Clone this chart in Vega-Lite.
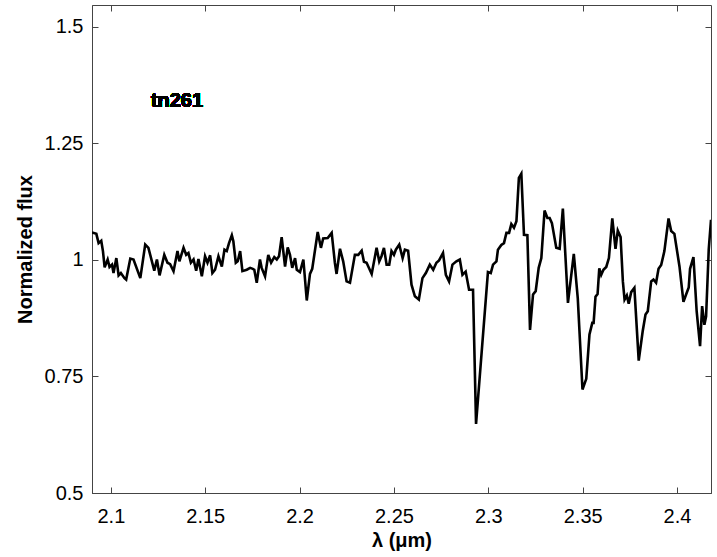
{
  "$schema": "https://vega.github.io/schema/vega-lite/v6.json",
  "width": 619,
  "height": 488,
  "autosize": {"type": "none"},
  "padding": {"left": 92, "top": 5, "right": 6, "bottom": 64},
  "background": "white",
  "config": {
    "view": {"stroke": "#444", "strokeWidth": 1},
    "font": "Liberation Sans",
    "axis": {"grid": false, "domainColor": "#444", "tickColor": "#444", "labelColor": "black", "titleColor": "black", "labelFont": "Liberation Sans", "titleFont": "Liberation Sans", "labelFontSize": 20, "titleFontSize": 20, "titleFontWeight": "bold", "tickSize": -6}
  },
  "data": {"values": [
    {"w": 2.0900, "f": 1.059}, {"w": 2.0923, "f": 1.056}, {"w": 2.0935, "f": 1.036}, {"w": 2.0949, "f": 1.041}, {"w": 2.0958, "f": 1.019}, {"w": 2.0967, "f": 0.984}, {"w": 2.0983, "f": 1.001}, {"w": 2.0993, "f": 0.985}, {"w": 2.1006, "f": 0.990}, {"w": 2.1014, "f": 0.972}, {"w": 2.1029, "f": 1.004}, {"w": 2.1041, "f": 0.967}, {"w": 2.1053, "f": 0.972}, {"w": 2.1072, "f": 0.961}, {"w": 2.1081, "f": 0.958}, {"w": 2.1103, "f": 1.003}, {"w": 2.1120, "f": 1.001}, {"w": 2.1156, "f": 0.961}, {"w": 2.1182, "f": 1.033}, {"w": 2.1199, "f": 1.026}, {"w": 2.1230, "f": 0.977}, {"w": 2.1244, "f": 1.001}, {"w": 2.1258, "f": 0.967}, {"w": 2.1283, "f": 1.011}, {"w": 2.1300, "f": 0.994}, {"w": 2.1314, "f": 0.991}, {"w": 2.1332, "f": 0.976}, {"w": 2.1353, "f": 1.019}, {"w": 2.1363, "f": 0.997}, {"w": 2.1385, "f": 1.026}, {"w": 2.1399, "f": 1.011}, {"w": 2.1411, "f": 1.015}, {"w": 2.1424, "f": 0.994}, {"w": 2.1438, "f": 1.001}, {"w": 2.1452, "f": 0.977}, {"w": 2.1464, "f": 1.002}, {"w": 2.1482, "f": 0.965}, {"w": 2.1499, "f": 1.008}, {"w": 2.1512, "f": 0.994}, {"w": 2.1526, "f": 1.010}, {"w": 2.1538, "f": 0.972}, {"w": 2.1552, "f": 0.979},
    {"w": 2.1570, "f": 1.008}, {"w": 2.1588, "f": 0.986}, {"w": 2.1602, "f": 1.022}, {"w": 2.1614, "f": 1.019}, {"w": 2.1626, "f": 1.036}, {"w": 2.1641, "f": 1.053}, {"w": 2.1649, "f": 1.040}, {"w": 2.1662, "f": 0.994}, {"w": 2.1672, "f": 0.997}, {"w": 2.1685, "f": 1.019}, {"w": 2.1697, "f": 0.976}, {"w": 2.1720, "f": 0.979}, {"w": 2.1738, "f": 0.983}, {"w": 2.1752, "f": 0.981}, {"w": 2.1760, "f": 0.979}, {"w": 2.1773, "f": 0.951}, {"w": 2.1790, "f": 1.001}, {"w": 2.1799, "f": 0.983}, {"w": 2.1817, "f": 0.965}, {"w": 2.1834, "f": 1.011}, {"w": 2.1849, "f": 0.994}, {"w": 2.1866, "f": 1.006}, {"w": 2.1879, "f": 1.001}, {"w": 2.1891, "f": 1.008}, {"w": 2.1905, "f": 1.049}, {"w": 2.1923, "f": 0.986}, {"w": 2.1937, "f": 1.027}, {"w": 2.1949, "f": 1.011}, {"w": 2.1961, "f": 0.983}, {"w": 2.1976, "f": 1.004}, {"w": 2.1985, "f": 0.979}, {"w": 2.2002, "f": 0.974}, {"w": 2.2020, "f": 1.001}, {"w": 2.2038, "f": 0.913}, {"w": 2.2055, "f": 0.970}, {"w": 2.2067, "f": 0.981}, {"w": 2.2096, "f": 1.060}, {"w": 2.2113, "f": 1.026}, {"w": 2.2125, "f": 1.046}, {"w": 2.2149, "f": 1.047}, {"w": 2.2170, "f": 1.058}, {"w": 2.2187, "f": 0.994}, {"w": 2.2196, "f": 0.970}, {"w": 2.2214, "f": 1.024},
    {"w": 2.2231, "f": 0.997}, {"w": 2.2249, "f": 0.954}, {"w": 2.2267, "f": 0.951}, {"w": 2.2293, "f": 1.011}, {"w": 2.2311, "f": 1.011}, {"w": 2.2329, "f": 1.020}, {"w": 2.2341, "f": 0.996}, {"w": 2.2355, "f": 0.994}, {"w": 2.2382, "f": 0.970}, {"w": 2.2408, "f": 1.026}, {"w": 2.2422, "f": 0.997}, {"w": 2.2434, "f": 1.008}, {"w": 2.2447, "f": 1.026}, {"w": 2.2461, "f": 0.990}, {"w": 2.2475, "f": 0.990}, {"w": 2.2487, "f": 1.019}, {"w": 2.2500, "f": 1.011}, {"w": 2.2510, "f": 1.022}, {"w": 2.2528, "f": 1.033}, {"w": 2.2546, "f": 1.004}, {"w": 2.2558, "f": 1.022}, {"w": 2.2575, "f": 1.020}, {"w": 2.2593, "f": 0.947}, {"w": 2.2611, "f": 0.922}, {"w": 2.2632, "f": 0.915}, {"w": 2.2651, "f": 0.961}, {"w": 2.2669, "f": 0.972}, {"w": 2.2690, "f": 0.990}, {"w": 2.2708, "f": 0.979}, {"w": 2.2725, "f": 0.994}, {"w": 2.2739, "f": 0.999}, {"w": 2.2760, "f": 1.015}, {"w": 2.2775, "f": 0.968}, {"w": 2.2792, "f": 0.954}, {"w": 2.2810, "f": 0.990}, {"w": 2.2831, "f": 0.997}, {"w": 2.2849, "f": 1.001}, {"w": 2.2863, "f": 0.968}, {"w": 2.2880, "f": 0.975}, {"w": 2.2898, "f": 0.936}, {"w": 2.2919, "f": 0.936}, {"w": 2.2935, "f": 0.648},
    {"w": 2.2998, "f": 0.974}, {"w": 2.3013, "f": 0.972}, {"w": 2.3025, "f": 0.990}, {"w": 2.3043, "f": 0.997}, {"w": 2.3051, "f": 1.022}, {"w": 2.3069, "f": 1.032}, {"w": 2.3083, "f": 1.036}, {"w": 2.3096, "f": 1.058}, {"w": 2.3110, "f": 1.058}, {"w": 2.3122, "f": 1.077}, {"w": 2.3136, "f": 1.069}, {"w": 2.3149, "f": 1.083}, {"w": 2.3162, "f": 1.176}, {"w": 2.3175, "f": 1.185}, {"w": 2.3189, "f": 1.054}, {"w": 2.3207, "f": 1.053}, {"w": 2.3221, "f": 0.850}, {"w": 2.3237, "f": 0.926}, {"w": 2.3251, "f": 0.933}, {"w": 2.3267, "f": 0.983}, {"w": 2.3281, "f": 1.004}, {"w": 2.3298, "f": 1.106}, {"w": 2.3313, "f": 1.090}, {"w": 2.3325, "f": 1.090}, {"w": 2.3337, "f": 1.079}, {"w": 2.3360, "f": 1.026}, {"w": 2.3378, "f": 1.024}, {"w": 2.3395, "f": 1.110}, {"w": 2.3422, "f": 0.908}, {"w": 2.3453, "f": 1.013}, {"w": 2.3474, "f": 0.918}, {"w": 2.3499, "f": 0.722}, {"w": 2.3519, "f": 0.745}, {"w": 2.3536, "f": 0.840}, {"w": 2.3551, "f": 0.865}, {"w": 2.3558, "f": 0.865}, {"w": 2.3568, "f": 0.921}, {"w": 2.3579, "f": 0.927}, {"w": 2.3588, "f": 0.982}, {"w": 2.3598, "f": 0.968}, {"w": 2.3610, "f": 0.979}, {"w": 2.3625, "f": 0.985}, {"w": 2.3639, "f": 1.004}, {"w": 2.3657, "f": 1.089}, {"w": 2.3674, "f": 1.024}, {"w": 2.3686, "f": 1.063}, {"w": 2.3701, "f": 1.049}, {"w": 2.3713, "f": 0.954}, {"w": 2.3722, "f": 0.915}, {"w": 2.3734, "f": 0.924}, {"w": 2.3744, "f": 0.906}, {"w": 2.3757, "f": 0.931}, {"w": 2.3774, "f": 0.940}, {"w": 2.3797, "f": 0.784}, {"w": 2.3818, "f": 0.847}, {"w": 2.3833, "f": 0.883}, {"w": 2.3845, "f": 0.890}, {"w": 2.3863, "f": 0.954}, {"w": 2.3875, "f": 0.958}, {"w": 2.3889, "f": 0.951}, {"w": 2.3902, "f": 0.981}, {"w": 2.3916, "f": 0.989}, {"w": 2.3933, "f": 1.019}, {"w": 2.3955, "f": 1.089}, {"w": 2.3969, "f": 1.062}, {"w": 2.3986, "f": 1.056}, {"w": 2.4013, "f": 0.986}, {"w": 2.4034, "f": 0.910}, {"w": 2.4048, "f": 0.926}, {"w": 2.4062, "f": 0.941}, {"w": 2.4069, "f": 0.981}, {"w": 2.4087, "f": 1.006}, {"w": 2.4104, "f": 0.890}, {"w": 2.4122, "f": 0.815}, {"w": 2.4133, "f": 0.901}, {"w": 2.4145, "f": 0.861}, {"w": 2.4154, "f": 0.879}, {"w": 2.4168, "f": 1.022}, {"w": 2.4180, "f": 1.086}
  ]},
  "resolve": {"axis": {"x": "independent", "y": "independent"}},
  "layer": [
    {
      "mark": {"type": "line", "color": "black", "strokeWidth": 2.6, "clip": true, "interpolate": "linear"},
      "encoding": {
        "x": {"field": "w", "type": "quantitative", "scale": {"domain": [2.09, 2.418], "nice": false, "zero": false},
              "axis": {"title": "λ (μm)", "values": [2.1, 2.15, 2.2, 2.25, 2.3, 2.35, 2.4], "format": ".2~f", "labelPadding": 19, "titlePadding": 4, "labelFlush": false}},
        "y": {"field": "f", "type": "quantitative", "scale": {"domain": [0.5, 1.547], "nice": false, "zero": false},
              "axis": {"title": "Normalized flux", "values": [0.5, 0.75, 1, 1.25, 1.5], "format": ".2~f", "labelPadding": 15, "titlePadding": 9, "labelFlush": false}}
      }
    },
    {
      "mark": {"type": "line", "opacity": 0},
      "encoding": {
        "x": {"field": "w", "type": "quantitative", "axis": {"orient": "top", "labels": false, "title": null, "domain": false, "values": [2.1, 2.15, 2.2, 2.25, 2.3, 2.35, 2.4]}},
        "y": {"field": "f", "type": "quantitative", "axis": {"orient": "right", "labels": false, "title": null, "domain": false, "values": [0.5, 0.75, 1, 1.25, 1.5]}}
      }
    },
    {
      "mark": {"type": "text", "text": "tn261", "fontSize": 20, "fontWeight": "bold", "font": "Liberation Sans", "color": "black"},
      "encoding": {
        "x": {"datum": 2.135, "type": "quantitative", "axis": null},
        "y": {"datum": 1.342, "type": "quantitative", "axis": null}
      }
    }
  ]
}
